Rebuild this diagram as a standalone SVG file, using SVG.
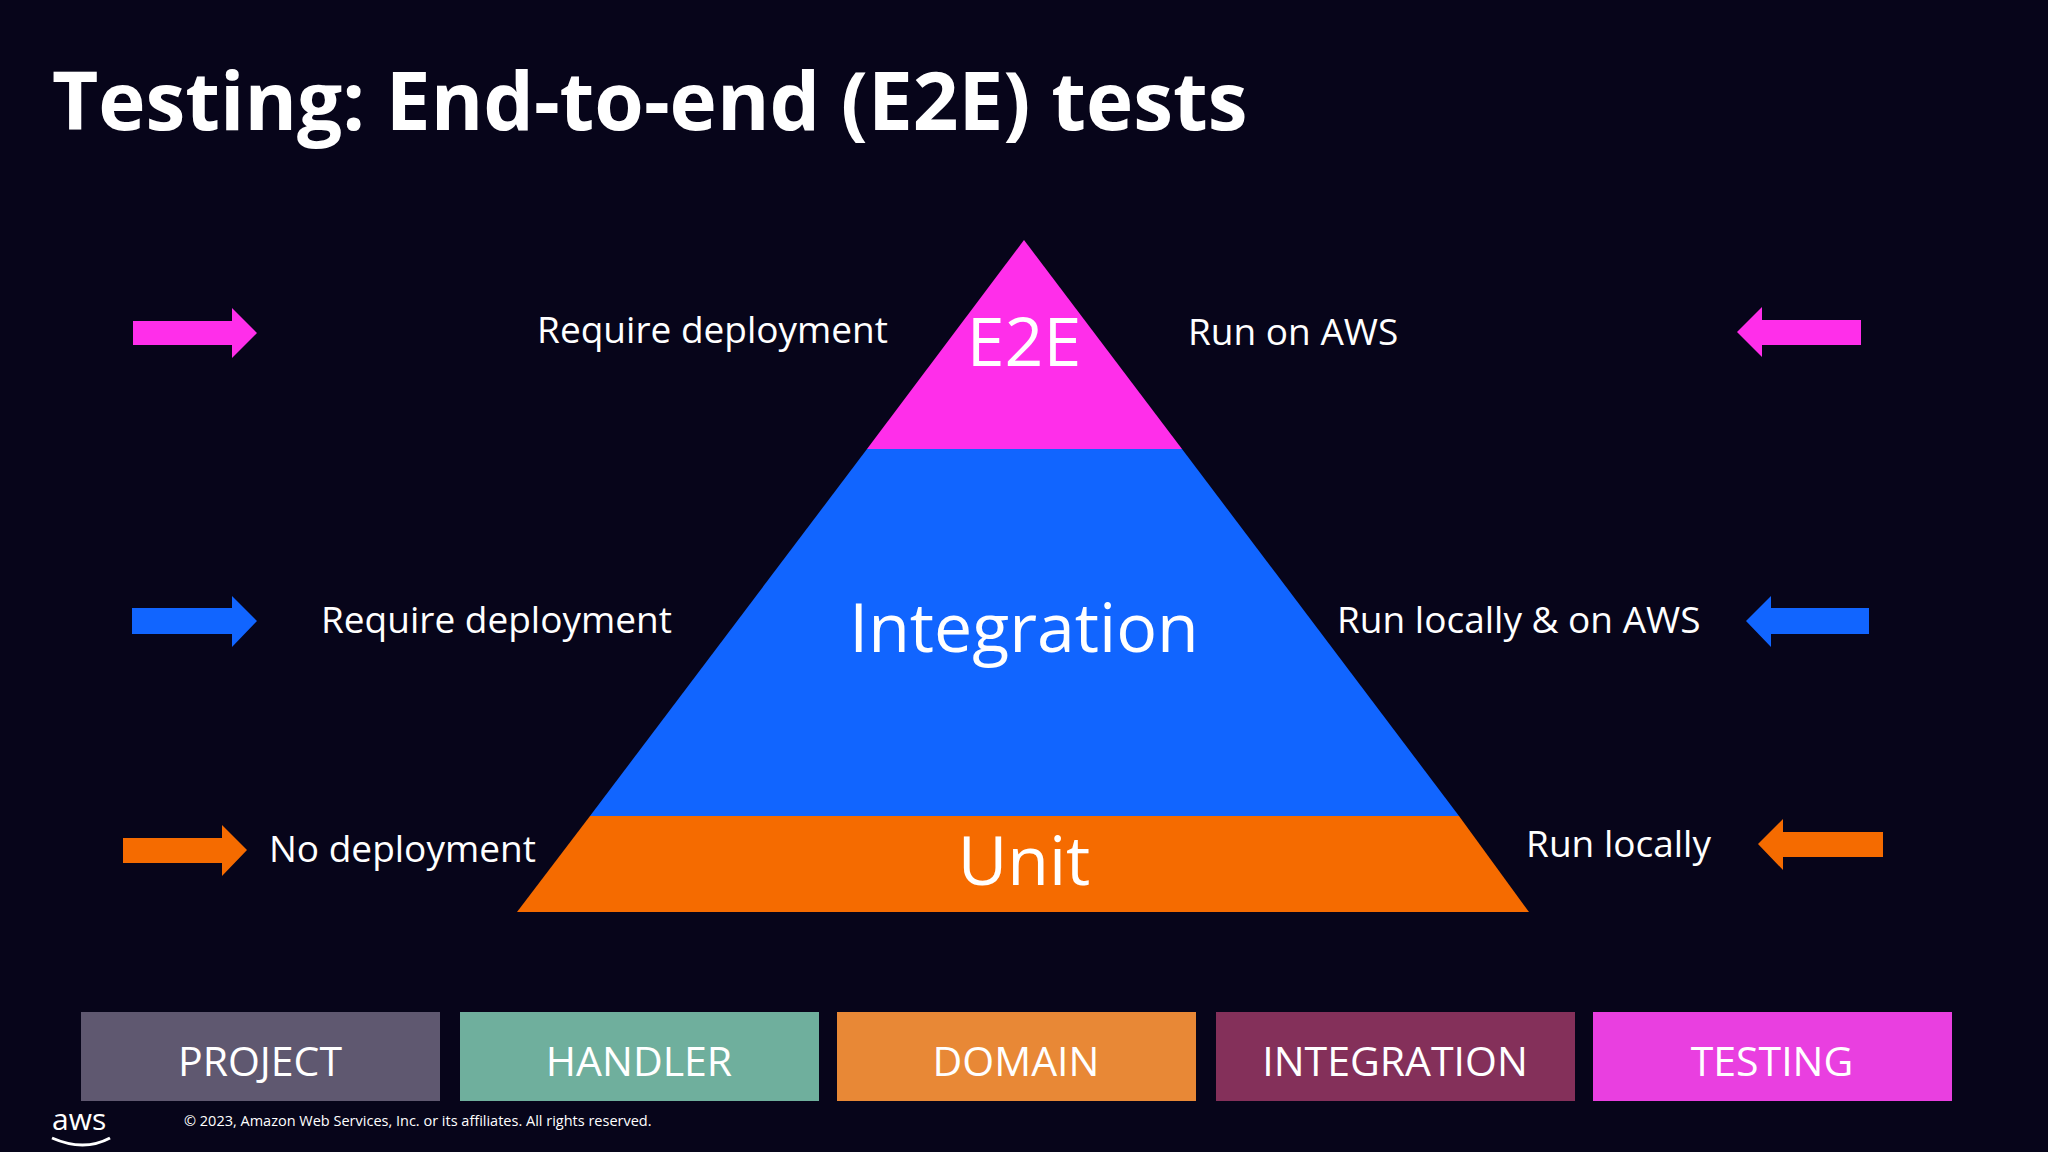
<svg xmlns="http://www.w3.org/2000/svg" width="2048" height="1152" viewBox="0 0 2048 1152">
<style>
.t{font-family:"Open Sans","Noto Sans",sans-serif;fill:#fff}
.lbl{font-size:37px}
.big{font-size:68px;text-anchor:middle}
.box{font-size:41px;text-anchor:middle}
</style>
<rect width="2048" height="1152" fill="#07051A"/>
<text class="t" x="52" y="130" font-size="80" font-weight="bold">Testing: End-to-end (E2E) tests</text>
<g id="pyramid">
<g id="e2e"><polygon points="1024,240 1182,449 867,449" fill="#FF2EEA"/><text class="t big" x="1024" y="366" font-size="64">E2E</text></g>
<g id="integration"><polygon points="867,449 1182,449 1459,816 590,816" fill="#1165FF"/><text class="t big" x="1024" y="652">Integration</text></g>
<g id="unit"><polygon points="590,816 1459,816 1529,912 517,912" fill="#F56B00"/><text class="t big" x="1024" y="885">Unit</text></g>
</g>
<g id="labels">
<text class="t lbl" x="888" y="343" text-anchor="end">Require deployment</text>
<text class="t lbl" x="1188" y="345">Run on AWS</text>
<text class="t lbl" x="321" y="633">Require deployment</text>
<text class="t lbl" x="1337" y="633">Run locally &amp; on AWS</text>
<text class="t lbl" x="269" y="862">No deployment</text>
<text class="t lbl" x="1711" y="857" text-anchor="end">Run locally</text>
</g>
<g id="connectors">
<polygon points="133,321 232,321 232,308 257,333 232,358 232,345 133,345" fill="#FF2EEA"/>
<polygon points="1861,320 1762,320 1762,307 1737,332 1762,357 1762,345 1861,345" fill="#FF2EEA"/>
<polygon points="132,608 232,608 232,596 257,621 232,647 232,634 132,634" fill="#1165FF"/>
<polygon points="1869,608 1771,608 1771,596 1746,621 1771,647 1771,634 1869,634" fill="#1165FF"/>
<polygon points="123,838 222,838 222,825 247,850 222,876 222,863 123,863" fill="#F56B00"/>
<polygon points="1883,832 1783,832 1783,819 1758,844 1783,870 1783,857 1883,857" fill="#F56B00"/>
</g>
<g id="bottom">
<g id="b1"><rect x="81" y="1012" width="359" height="89" fill="#5F5870"/><text class="t box" x="260" y="1076">PROJECT</text></g>
<g id="b2"><rect x="460" y="1012" width="359" height="89" fill="#6FAF9D"/><text class="t box" x="639" y="1076">HANDLER</text></g>
<g id="b3"><rect x="837" y="1012" width="359" height="89" fill="#E88836"/><text class="t box" x="1016" y="1076">DOMAIN</text></g>
<g id="b4"><rect x="1216" y="1012" width="359" height="89" fill="#84305A"/><text class="t box" x="1395" y="1076">INTEGRATION</text></g>
<g id="b5"><rect x="1593" y="1012" width="359" height="89" fill="#E93FE0"/><text class="t box" x="1772" y="1076">TESTING</text></g>
</g>
<text class="t" x="52" y="1130" font-size="30">aws</text>
<path d="M52,1138 Q84,1152 110,1138" stroke="#fff" stroke-width="3" fill="none"/>
<text class="t" x="184" y="1126" font-size="14.5">© 2023, Amazon Web Services, Inc. or its affiliates. All rights reserved.</text>
</svg>
